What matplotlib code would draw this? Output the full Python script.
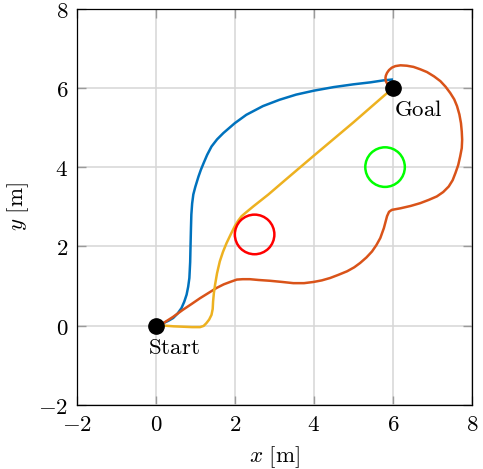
import matplotlib
matplotlib.use('Agg')
import matplotlib.pyplot as plt
import matplotlib.patches as mpatches
import matplotlib.ticker as mticker

# Data
# ---------------------------

start = (0.0, 0.0)
goal = (6.0, 6.0)

# obstacles: (x, y, radius)
obstacle_red = (2.5, 2.3, 0.5)
obstacle_green = (5.8, 4.0, 0.5)

# path 1 (blue)
blue_x = [0.0, 0.10, 0.19, 0.32, 0.44, 0.55, 0.65, 0.72, 0.78, 0.82, 0.85,
          0.87, 0.88, 0.89, 0.90, 0.92, 0.95, 1.00, 1.04, 1.08, 1.14, 1.21,
          1.30, 1.41, 1.55, 1.71, 2.00, 2.29, 2.71, 3.13, 3.55, 4.00, 4.50,
          5.00, 5.43, 5.76, 5.97]
blue_y = [0.0, 0.02, 0.06, 0.12, 0.19, 0.30, 0.44, 0.60, 0.78, 0.98, 1.20,
          1.60, 2.04, 2.45, 2.80, 3.08, 3.31, 3.50, 3.63, 3.76, 3.93, 4.10,
          4.31, 4.52, 4.70, 4.86, 5.11, 5.32, 5.54, 5.70, 5.83, 5.93, 6.02,
          6.09, 6.14, 6.19, 6.21]

# path 2 (yellow)
yellow_x = [0.0, 0.19, 0.45, 0.69, 0.92, 1.12, 1.21, 1.28, 1.35, 1.41, 1.44,
            1.45, 1.47, 1.50, 1.55, 1.62, 1.70, 1.79, 1.90, 2.00, 2.08, 2.17,
            2.30, 2.47, 2.85, 3.27, 4.00, 5.00, 5.84, 6.0]
yellow_y = [0.0, 0.0, -0.02, -0.03, -0.04, -0.04, -0.01, 0.06, 0.15, 0.27,
            0.42, 0.61, 0.82, 1.03, 1.32, 1.62, 1.86, 2.08, 2.31, 2.51, 2.64,
            2.76, 2.87, 3.01, 3.31, 3.67, 4.29, 5.13, 5.86, 6.0]

# path 3 (red)
red_x = [0.0, 0.19, 0.44, 0.69, 0.90, 1.12, 1.33, 1.54, 1.72, 1.88, 2.05,
         2.20, 2.38, 2.60, 2.89, 3.20, 3.48, 3.75, 3.99, 4.20, 4.41, 4.62,
         4.84, 5.02, 5.17, 5.33, 5.47, 5.58, 5.68, 5.77, 5.85, 5.90, 5.97,
         6.19, 6.45, 6.69, 6.90, 7.11, 7.27, 7.41, 7.51, 7.58, 7.65, 7.70,
         7.74, 7.75, 7.74, 7.72, 7.68, 7.62, 7.55, 7.45, 7.33, 7.20, 7.04,
         6.86, 6.69, 6.52, 6.35, 6.19, 6.06, 5.97, 5.90, 5.85, 5.82, 5.81,
         5.82, 5.85, 5.92]
red_y = [0.0, 0.06, 0.22, 0.40, 0.54, 0.69, 0.82, 0.95, 1.04, 1.10, 1.16,
         1.17, 1.17, 1.15, 1.13, 1.10, 1.07, 1.07, 1.10, 1.14, 1.20, 1.28,
         1.37, 1.47, 1.58, 1.72, 1.87, 2.03, 2.21, 2.46, 2.76, 2.87, 2.92,
         2.96, 3.02, 3.09, 3.17, 3.26, 3.37, 3.51, 3.67, 3.85, 4.05, 4.27,
         4.48, 4.69, 4.90, 5.11, 5.33, 5.54, 5.71, 5.87, 6.03, 6.17, 6.29,
         6.40, 6.47, 6.53, 6.56, 6.57, 6.55, 6.51, 6.45, 6.38, 6.31, 6.25,
         6.17, 6.11, 6.04]

ticks = [-2, 0, 2, 4, 6, 8]

# Style
# -----

plt.rcParams['mathtext.fontset'] = 'cm'
plt.rcParams['font.size'] = 16.5

blue = '#0072bd'
orange = '#d95319'
yellow = '#edb120'

# Figure
# ------

fig = plt.figure(figsize=(4.83, 4.69), dpi=100)
ax = fig.add_axes([0.1588, 0.137, 0.8185, 0.8445])

ax.plot(blue_x, blue_y, color=blue, lw=1.8, zorder=3,
        solid_joinstyle='round')
ax.plot(red_x, red_y, color=orange, lw=1.8, zorder=3,
        solid_joinstyle='round')
ax.plot(yellow_x, yellow_y, color=yellow, lw=1.8, zorder=3,
        solid_joinstyle='round')

for (cx, cy, r), c in [(obstacle_red, '#ff0000'), (obstacle_green, '#00ff00')]:
    ax.add_patch(mpatches.Circle((cx, cy), r, fill=False, ec=c, lw=1.8,
                                 zorder=3))

ax.plot(*start, 'o', color='k', ms=11, zorder=4)
ax.plot(*goal, 'o', color='k', ms=11, zorder=4)
ax.text(start[0] - 0.2, start[1] - 0.26, r'$\mathrm{Start}$', ha='left',
        va='top')
ax.text(goal[0] + 0.02, goal[1] - 0.26, r'$\mathrm{Goal}$', ha='left',
        va='top')

# axes decoration
ax.set_xlim(-2, 8)
ax.set_ylim(-2, 8)
ax.set_xticks(ticks)
ax.set_yticks(ticks)
fmt = mticker.FuncFormatter(lambda v, pos: r'${:g}$'.format(v))
ax.xaxis.set_major_formatter(fmt)
ax.yaxis.set_major_formatter(fmt)
ax.tick_params(direction='in', length=6.5, width=1.0, color='#9a9a9a',
               top=True, right=True, pad=6, labelcolor='k')
ax.grid(True, color='#d6d6d6', lw=1.1, zorder=0)
ax.set_axisbelow(True)
for s in ax.spines.values():
    s.set_linewidth(0.9)
ax.set_xlabel(r'$x\ [\mathrm{m}]$', labelpad=6)
ax.set_ylabel(r'$y\ [\mathrm{m}]$', labelpad=5)

fig.savefig('out.png', dpi=100)
